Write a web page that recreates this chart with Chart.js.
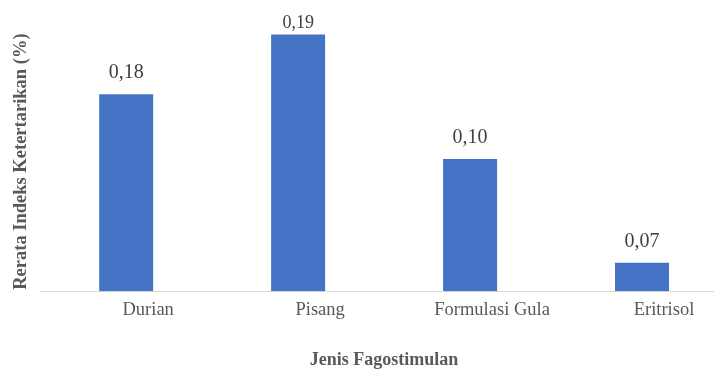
<!DOCTYPE html>
<html>
<head>
<meta charset="utf-8">
<script src="https://cdn.jsdelivr.net/npm/chart.js@4.4.1/dist/chart.umd.min.js"></script>
<style>
    html, body { margin: 0; padding: 0; background: #fff; overflow: hidden; }
    #wrap { width: 728px; height: 369px; }
</style>
</head>
<body>
<div id="wrap"><canvas id="fago" width="728" height="369"></canvas></div>
<script>
// categories and values
const categories = ['Durian', 'Pisang', 'Formulasi Gula', 'Eritrisol'];
// bar lengths as drawn (hidden axis 0 - 0.2)
const barValues = [0.152, 0.198, 0.102, 0.022];
// value labels as printed above the bars
const valueLabels = ['0,18', '0,19', '0,10', '0,07'];

const serif = '"Liberation Serif", "Times New Roman", serif';

// draws the printed value above each bar
const barLabels = {
    id: 'barLabels',
    afterDatasetsDraw(chart) {
        const ctx = chart.ctx;
        const meta = chart.getDatasetMeta(0);
        ctx.save();
        ctx.fillStyle = '#404040';
        ctx.textAlign = 'center';
        ctx.textBaseline = 'alphabetic';
        meta.data.forEach((bar, i) => {
            const tight = bar.y - 16 < 40;
            ctx.font = (tight ? 18 : 20) + 'px ' + serif;
            ctx.fillText(valueLabels[i], bar.x, bar.y - (tight ? 7 : 16));
        });
        ctx.restore();
    }
};

new Chart(document.getElementById('fago'), {
    type: 'bar',
    data: {
        labels: categories,
        datasets: [{
            data: barValues,
            backgroundColor: '#4472C4',
            barPercentage: 1,
            categoryPercentage: 0.314
        }]
    },
    options: {
        responsive: false,
        devicePixelRatio: 1,
        animation: false,
        layout: { padding: { top: 32, left: 10, right: 0, bottom: 0 } },
        scales: {
            x: {
                grid: { display: false },
                border: { display: true, color: '#d9d9d9', width: 1 },
                ticks: {
                    color: '#595959',
                    font: { family: serif, size: 18.5 },
                    padding: 0,
                    labelOffset: 22,
                    maxRotation: 0
                },
                title: {
                    display: true,
                    text: 'Jenis Fagostimulan',
                    color: '#595959',
                    font: { family: serif, size: 18, weight: 'bold', lineHeight: 1 },
                    padding: { top: 29.6, bottom: 0 }
                }
            },
            y: {
                min: 0,
                max: 0.2,
                grid: { display: false },
                border: { display: false },
                ticks: { display: false, padding: 0 },
                title: {
                    display: true,
                    text: 'Rerata Indeks Ketertarikan (%)',
                    color: '#595959',
                    font: { family: serif, size: 18.5, weight: 'bold' },
                    padding: { top: 0, bottom: 0 }
                }
            }
        },
        plugins: {
            legend: { display: false },
            tooltip: { enabled: false }
        }
    },
    plugins: [barLabels]
});
</script>
</body>
</html>
